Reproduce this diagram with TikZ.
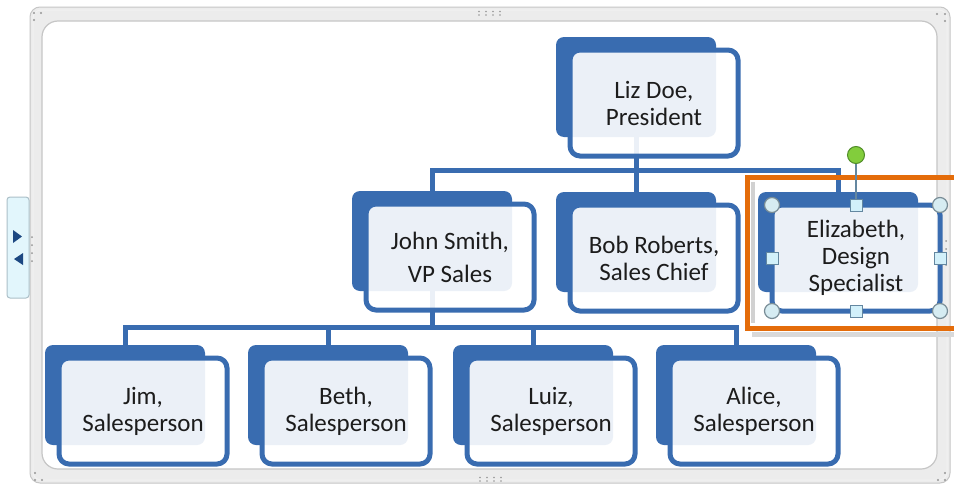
\documentclass[tikz,border=0pt]{standalone}
\usepackage{fontspec}
\setmainfont{Carlito}
\pgfdeclarelayer{bg}
\pgfsetlayers{bg,main}
\definecolor{boxblue}{RGB}{57,108,176}
\definecolor{inktext}{RGB}{28,28,28}
\definecolor{framefill}{RGB}{236,236,236}
\definecolor{frameedge}{RGB}{198,198,198}
\definecolor{gripdot}{RGB}{150,150,150}
\definecolor{tabfill}{RGB}{226,246,252}
\definecolor{tabedge}{RGB}{172,192,200}
\definecolor{arrowblue}{RGB}{28,72,130}
\definecolor{selorange}{RGB}{228,108,10}
\definecolor{handlefill}{RGB}{214,236,242}
\definecolor{handleedge}{RGB}{120,140,150}
\definecolor{sqfill}{RGB}{210,240,250}
\definecolor{sqedge}{RGB}{100,135,160}
\definecolor{rotgreen}{RGB}{130,205,60}
\definecolor{rotedge}{RGB}{80,140,40}
\begin{document}
\begin{tikzpicture}[x=1pt,y=-1pt,
  backbox/.style={fill=boxblue, rounded corners=8pt, minimum width=160pt,
    minimum height=100pt, inner sep=0pt, outer sep=0pt, anchor=north west},
  frontbox/.style={draw=boxblue, line width=5pt, fill=white, fill opacity=0.9,
    text opacity=1, rounded corners=10pt, minimum width=168pt, minimum height=106pt,
    inner sep=0pt, outer sep=0pt, anchor=north west, align=center, text=inktext,
    font=\fontsize{25}{27}\selectfont},
  link/.style={draw=boxblue, line width=5pt},
  hcirc/.style={circle, draw=handleedge, fill=handlefill, line width=1.2pt,
    minimum size=15pt, inner sep=0pt},
  hsq/.style={rectangle, draw=sqedge, fill=sqfill, line width=1pt,
    minimum size=12pt, inner sep=0pt},
  grip/.style={fill=gripdot}]
\useasboundingbox (0,0) rectangle (954,485);

% canvas frame and side tab
\begin{pgfonlayer}{bg}
\fill[white] (0,0) rectangle (954,485);
\draw[draw=frameedge, fill=framefill, line width=1pt, rounded corners=10pt] (30,7) rectangle (950,483);
\draw[draw=white!95!black, line width=1pt, rounded corners=8pt] (33,10) rectangle (947,480);
\draw[draw=frameedge, fill=white, line width=1.2pt, rounded corners=16pt] (42,21) rectangle (937,469);
\draw[draw=tabedge, fill=tabfill, line width=1pt, rounded corners=3pt] (7,197) rectangle (29,298);
\fill[arrowblue] (13,230) -- (13,243) -- (22,236.5) -- cycle;
\fill[arrowblue] (23,253) -- (23,265) -- (14,259) -- cycle;
% grips
\foreach \gx in {479,486,493,500} {
  \fill[grip] (\gx,11.5) circle (0.9); \fill[grip] (\gx,15) circle (0.9);
  \fill[grip] (\gx+1,477.5) circle (0.9); \fill[grip] (\gx+1,481) circle (0.9);
}
\foreach \gy in {237,245,253,261} {
  \fill[grip] (32,\gy) circle (1); \fill[grip] (946,\gy+4) circle (1);
}
\foreach \cx/\cy in {34/13,41/13,34/20, 937/14,945/14,945/21, 35/473,35/480,42/480, 945/473,945/480,938/480}
  \fill[grip] (\cx,\cy) circle (1.1);
\end{pgfonlayer}

% level 1
\node[backbox] (lizb) at (556,37) {};
\node[frontbox] (liz) at ([shift={(14,13)}]lizb.north west) {Liz Doe,\\President};
% level 2
\node[backbox] (johnb) at (352,191) {};
\node[frontbox] (john) at ([shift={(14,13)}]johnb.north west) {John Smith,\\[6pt]VP Sales};
\node[backbox] (bobb) at (556,192) {};
\node[frontbox] (bob) at ([shift={(14,13)}]bobb.north west) {Bob Roberts,\\Sales Chief};
\node[backbox] (elizb) at (758,192) {};
\node[frontbox] (eliz) at ([shift={(14,13)}]elizb.north west) {Elizabeth,\\Design\\Specialist};
% level 3
\node[backbox] (jimb) at (45,345) {};
\node[frontbox] (jim) at ([shift={(14,13)}]jimb.north west) {Jim,\\Salesperson};
\node[backbox] (bethb) at (248,345) {};
\node[frontbox] (beth) at ([shift={(14,13)}]bethb.north west) {Beth,\\Salesperson};
\node[backbox] (luizb) at (453,345) {};
\node[frontbox] (luiz) at ([shift={(14,13)}]luizb.north west) {Luiz,\\Salesperson};
\node[backbox] (aliceb) at (656,345) {};
\node[frontbox] (alice) at ([shift={(14,13)}]aliceb.north west) {Alice,\\Salesperson};

% connectors, kept beneath the boxes
\coordinate (bar1) at (0,170);
\coordinate (bar2) at (0,327);
\begin{pgfonlayer}{bg}
\draw[link] (lizb.center) -- (lizb.center |- bar1);
\draw[link] (johnb.center) -- (johnb.center |- bar1) -- (elizb.center |- bar1) -- (elizb.center);
\draw[link] (bobb.center |- bar1) -- (bobb.center);
\draw[link] (johnb.center) -- (johnb.center |- bar2);
\draw[link] (jimb.center) -- (jimb.center |- bar2) -- (aliceb.center |- bar2) -- (aliceb.center);
\draw[link] (bethb.center |- bar2) -- (bethb.center);
\draw[link] (luizb.center |- bar2) -- (luizb.center);
\end{pgfonlayer}

% selection of the Elizabeth shape
\draw[black!18, line width=4pt] (753,182) -- (753,323);
\draw[black!15, line width=5pt] (752,334) -- (960,334);
\draw[selorange, line width=5pt] (960,177.5) -- (747.5,177.5) -- (747.5,328.5) -- (960,328.5);
\node[hcirc] (hnw) at (eliz.north west) {};
\node[hcirc] (hne) at (eliz.north east) {};
\node[hcirc] (hsw) at (eliz.south west) {};
\node[hcirc] (hse) at (eliz.south east) {};
\node[hsq] (hn) at (eliz.north) {};
\node[hsq] (hs) at (eliz.south) {};
\node[hsq] (hw) at (eliz.west) {};
\node[hsq] (he) at (eliz.east) {};
\node[circle, draw=rotedge, fill=rotgreen, line width=1pt, minimum size=17pt, inner sep=0pt]
  (rot) at ([yshift=50pt]eliz.north) {};
\draw[sqedge, line width=1.5pt] (rot.south) -- (hn.north);
\end{tikzpicture}
\end{document}
